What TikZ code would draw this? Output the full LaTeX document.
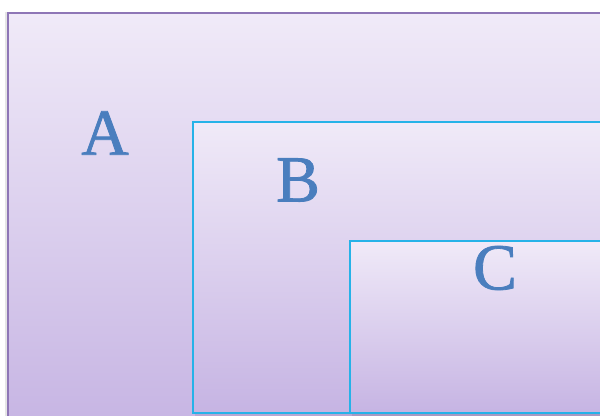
\documentclass[tikz,border=0pt]{standalone}
\usepackage{fontspec}
\setmainfont{Liberation Serif}
\newfontfamily\setletterfont[FakeBold=1.2]{Liberation Serif}
\definecolor{lilactop}{HTML}{F0EAF8}
\definecolor{lilacbot}{HTML}{C6B4E3}
\definecolor{lilacedge}{HTML}{8E76B6}
\definecolor{cyanedge}{HTML}{26B2E8}
\definecolor{letterblue}{HTML}{4A7EBE}
\tikzset{
  setbox/.style={top color=lilactop, bottom color=lilacbot},
  letter/.style={font=\setletterfont\fontsize{66}{66}\selectfont, text=letterblue, inner sep=0pt, anchor=center},
}
\begin{document}
\begin{tikzpicture}[x=1bp, y=-1bp]
\useasboundingbox (0,0) rectangle (600,415);
\clip (0,0) rectangle (600,415);
\fill[white] (0,0) rectangle (600,415);
% outer set A
\fill[black, opacity=0.10] (5,12) rectangle (620,430);
\shade[setbox] (8,13) rectangle (620,430);
\draw[lilacedge, line width=1.8bp] (620,13) -- (8,13) -- (8,430);
% set B
\fill[black, opacity=0.08] (195,125) rectangle (620,416);
\shade[setbox] (193,122) rectangle (620,413);
\draw[cyanedge, line width=2bp] (620,122) -- (193,122) -- (193,413) -- (620,413);
% set C
\fill[black, opacity=0.08] (352,244) rectangle (620,416);
\shade[setbox] (350,241) rectangle (620,413);
\draw[cyanedge, line width=2bp] (620,241) -- (350,241) -- (350,413) -- (620,413);
% labels
\node[letter] (labA) at (105,133) {A};
\node[letter] (labB) at (298,180) {B};
\node[letter] (labC) at (495,268) {C};
\end{tikzpicture}
\end{document}
